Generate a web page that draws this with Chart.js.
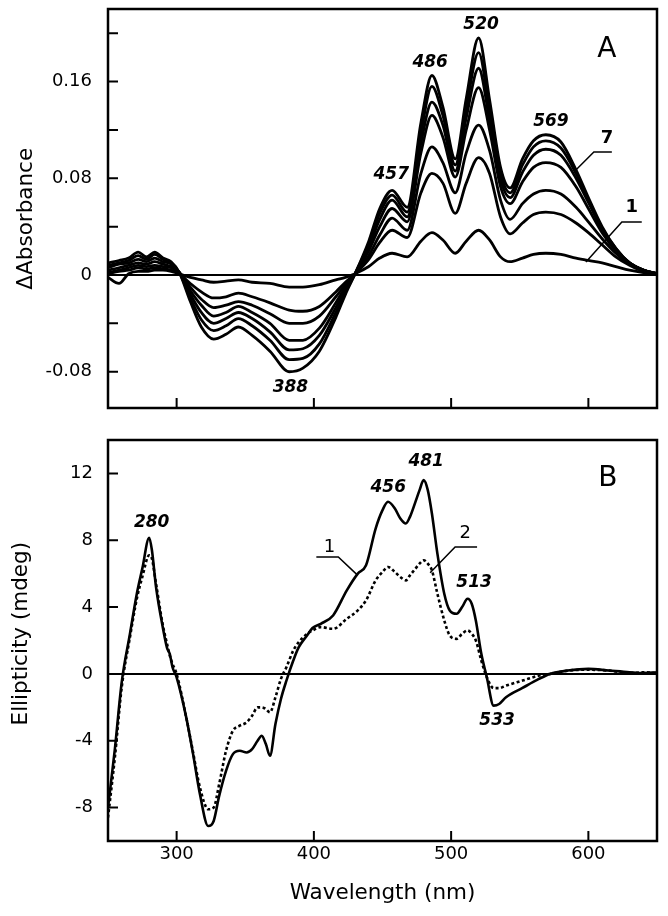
<!DOCTYPE html>
<html>
<head>
<meta charset="utf-8">
<script src="https://cdn.jsdelivr.net/npm/chart.js@4.4.0/dist/chart.umd.min.js"></script>
<style>
  body { margin: 0; background: #fff; }
  #wrap { position: relative; width: 668px; height: 916px; }
  #chartA { position: absolute; left: 0; top: 0; }
  #chartB { position: absolute; left: 0; top: 420px; }
</style>
</head>
<body>
<div id="wrap">
  <canvas id="chartA" width="668" height="420"></canvas>
  <canvas id="chartB" width="668" height="496"></canvas>
</div>
<script>
// ---- panel A : difference absorbance spectra, curves 1..7 ----
var wlA = [250, 258, 265, 272, 278, 284, 290, 296, 302, 310, 318, 327, 336, 345, 355, 368, 382, 392, 404, 416,
           423, 430, 440, 448, 457, 468, 478, 486, 494, 503, 511, 520, 528, 536, 543, 552, 560, 569, 580, 591,
           600, 610, 620, 630, 640, 650];

var absA1 = [-0.002, -0.007, 0.001, 0.003, 0.003, 0.004, 0.004, 0.003, 0.001, -0.002, -0.004, -0.006, -0.005, -0.004, -0.006, -0.007, -0.010, -0.010, -0.008, -0.004,
             -0.002, 0.001, 0.007, 0.014, 0.018, 0.015, 0.028, 0.035, 0.029, 0.018, 0.028, 0.037, 0.029, 0.015, 0.011, 0.014, 0.017, 0.018, 0.017, 0.014,
             0.012, 0.010, 0.007, 0.004, 0.002, 0.001];
var absA2 = [0.001, 0.003, 0.004, 0.006, 0.005, 0.006, 0.005, 0.004, 0.001, -0.007, -0.014, -0.019, -0.018, -0.015, -0.018, -0.023, -0.029, -0.030, -0.026, -0.014,
             -0.006, 0.001, 0.013, 0.027, 0.037, 0.031, 0.068, 0.084, 0.076, 0.051, 0.076, 0.097, 0.084, 0.048, 0.034, 0.043, 0.050, 0.052, 0.050, 0.043,
             0.035, 0.025, 0.015, 0.008, 0.003, 0.001];
var absA3 = [0.002, 0.004, 0.006, 0.008, 0.007, 0.008, 0.007, 0.006, 0.002, -0.010, -0.020, -0.027, -0.025, -0.022, -0.025, -0.032, -0.040, -0.040, -0.034, -0.018,
             -0.008, 0.001, 0.016, 0.033, 0.047, 0.037, 0.084, 0.106, 0.093, 0.068, 0.101, 0.124, 0.103, 0.062, 0.046, 0.059, 0.067, 0.070, 0.067, 0.056,
             0.044, 0.030, 0.018, 0.009, 0.004, 0.001];
var absA4 = [0.004, 0.006, 0.008, 0.010, 0.009, 0.011, 0.009, 0.007, 0.002, -0.013, -0.025, -0.034, -0.031, -0.026, -0.031, -0.040, -0.054, -0.054, -0.044, -0.023,
             -0.010, 0.001, 0.020, 0.040, 0.055, 0.044, 0.101, 0.132, 0.114, 0.081, 0.120, 0.155, 0.120, 0.073, 0.059, 0.077, 0.089, 0.093, 0.089, 0.073,
             0.055, 0.035, 0.020, 0.010, 0.004, 0.001];
var absA5 = [0.006, 0.009, 0.010, 0.013, 0.011, 0.014, 0.011, 0.009, 0.002, -0.016, -0.031, -0.040, -0.036, -0.031, -0.036, -0.047, -0.062, -0.061, -0.050, -0.027,
             -0.012, 0.001, 0.023, 0.046, 0.062, 0.048, 0.109, 0.143, 0.124, 0.086, 0.130, 0.171, 0.128, 0.079, 0.064, 0.085, 0.099, 0.104, 0.099, 0.080,
             0.060, 0.038, 0.021, 0.010, 0.004, 0.001];
var absA6 = [0.008, 0.010, 0.012, 0.016, 0.013, 0.017, 0.013, 0.010, 0.002, -0.019, -0.037, -0.046, -0.042, -0.036, -0.042, -0.054, -0.070, -0.069, -0.057, -0.031,
             -0.014, 0.001, 0.026, 0.051, 0.066, 0.052, 0.117, 0.156, 0.132, 0.091, 0.138, 0.184, 0.136, 0.084, 0.068, 0.091, 0.106, 0.111, 0.105, 0.084,
             0.062, 0.039, 0.022, 0.010, 0.004, 0.001];
var absA7 = [0.010, 0.012, 0.014, 0.019, 0.015, 0.019, 0.014, 0.011, 0.002, -0.022, -0.043, -0.053, -0.049, -0.043, -0.050, -0.063, -0.080, -0.077, -0.063, -0.035,
             -0.016, 0.001, 0.028, 0.055, 0.070, 0.056, 0.126, 0.165, 0.139, 0.096, 0.146, 0.196, 0.145, 0.089, 0.072, 0.096, 0.111, 0.116, 0.110, 0.087,
             0.064, 0.040, 0.022, 0.010, 0.004, 0.001];

// ---- panel B : CD spectra, 1 solid, 2 dotted ----
var wlB = [250, 255, 260, 266, 271, 275, 280, 282, 285, 290, 293, 295, 297, 300, 307, 312, 317, 323, 327, 331,
           336, 341, 346, 351, 355, 359, 362, 365, 368, 372, 376, 380, 385, 389, 395, 399, 405, 414, 424, 432,
           438, 445, 450, 454, 459, 463, 467, 470, 474, 477, 480, 483, 486, 490, 495, 499, 504, 508, 512, 515,
           518, 522, 526, 531, 535, 540, 552, 564, 572, 585, 600, 615, 630, 640, 650];
var cdB1 = [-8.0, -4.5, -0.5, 2.4, 4.8, 6.3, 8.15, 7.4, 5.2, 2.75, 1.56, 1.2, 0.4, -0.2, -2.6, -4.8, -7.2, -9.1, -8.8, -7.3,
            -5.8, -4.8, -4.6, -4.7, -4.5, -4.0, -3.7, -4.2, -4.9, -3.0, -1.5, -0.4, 0.8, 1.6, 2.3, 2.75, 3.0, 3.5, 5.0, 6.0,
            6.5, 8.7, 9.8, 10.3, 9.9, 9.3, 9.0, 9.4, 10.3, 11.0, 11.6, 11.0, 9.6, 7.2, 4.8, 3.8, 3.6, 4.0, 4.5, 4.2,
            3.2, 1.2, -0.2, -1.9, -1.8, -1.4, -0.84, -0.3, 0.0, 0.2, 0.3, 0.2, 0.1, 0.05, 0.1];
var cdB2 = [-8.6, -5.0, -0.8, 2.2, 4.5, 5.8, 7.1, 6.9, 5.4, 2.9, 1.8, 1.1, 0.6, 0.0, -2.6, -4.7, -6.8, -8.1, -8.0, -6.6,
            -4.6, -3.4, -3.1, -2.9, -2.5, -2.0, -2.0, -2.1, -2.3, -1.4, -0.3, 0.4, 1.4, 1.9, 2.4, 2.6, 2.8, 2.7, 3.3, 3.8,
            4.4, 5.6, 6.1, 6.4, 6.1, 5.8, 5.6, 5.9, 6.3, 6.6, 6.8, 6.6, 6.2, 4.8, 3.2, 2.3, 2.1, 2.4, 2.6, 2.4,
            2.0, 0.8, -0.2, -0.85, -0.85, -0.7, -0.4, -0.1, 0.0, 0.2, 0.25, 0.2, 0.05, 0.1, 0.05];

var xTicks = [300, 400, 500, 600];
var yTicksA = [-0.08, 0, 0.08, 0.16];
var yMinorA = [-0.04, 0.04, 0.12, 0.2];
var yTicksB = [-8, -4, 0, 4, 8, 12];

var FAM = '"DejaVu Sans", "Liberation Sans", Arial, sans-serif';
Chart.defaults.font.family = FAM;
Chart.defaults.color = '#000';

var FONT_PEAK = 'bold italic 17px ' + FAM;
var FONT_NUM = 'bold 18px ' + FAM;
var FONT_NUMB = '18px ' + FAM;
var FONT_LETTER = '28px ' + FAM;

function pts(xs, ys) {
  return xs.map(function(w, i) { return {x: w, y: ys[i]}; });
}

// keep the plot frame exactly where the axis sizes put it
function fixY(s) { s.width = 108; s.paddingTop = 0; s.paddingBottom = 0; }

// frame, inward ticks, zero line, peak labels and leader lines
var decor = {
  id: 'decor',
  afterDatasetsDraw: function(chart, args, o) {
    var ctx = chart.ctx, a = chart.chartArea, x = chart.scales.x, y = chart.scales.y;
    ctx.save();
    ctx.strokeStyle = '#000';
    ctx.lineWidth = 2;
    var y0 = y.getPixelForValue(0);
    ctx.beginPath(); ctx.moveTo(a.left, y0); ctx.lineTo(a.right, y0); ctx.stroke();
    ctx.beginPath();
    o.xTicks.forEach(function(v) {
      var px = x.getPixelForValue(v);
      ctx.moveTo(px, a.bottom); ctx.lineTo(px, a.bottom - 10);
    });
    o.yTicks.forEach(function(v) {
      var py = y.getPixelForValue(v);
      ctx.moveTo(a.left, py); ctx.lineTo(a.left + 10, py);
    });
    ctx.stroke();
    ctx.lineWidth = 2.5;
    ctx.strokeRect(a.left, a.top, a.right - a.left, a.bottom - a.top);
    ctx.lineWidth = 1.5;
    o.leaders.forEach(function(line) {
      ctx.beginPath();
      line.forEach(function(p, i) {
        var px = x.getPixelForValue(p[0]), py = y.getPixelForValue(p[1]);
        if (i) ctx.lineTo(px, py); else ctx.moveTo(px, py);
      });
      ctx.stroke();
    });
    ctx.fillStyle = '#000';
    ctx.textAlign = 'center';
    ctx.textBaseline = 'middle';
    o.labels.forEach(function(l) {
      ctx.font = l.font;
      ctx.fillText(l.t, x.getPixelForValue(l.x), y.getPixelForValue(l.y));
    });
    ctx.restore();
  }
};

function lineSet(data, width, dash) {
  return {
    data: data, borderColor: '#000', borderWidth: width, borderDash: dash || [],
    pointRadius: 0, fill: false, cubicInterpolationMode: 'monotone'
  };
}

// panel A
new Chart(document.getElementById('chartA'), {
  type: 'line',
  data: {
    datasets: [absA1, absA2, absA3, absA4, absA5, absA6, absA7].map(function(s) {
      return lineSet(pts(wlA, s), 2.8);
    })
  },
  options: {
    responsive: false, animation: false,
    layout: {padding: {top: 9, right: 11, left: 0, bottom: 0}},
    plugins: {
      legend: {display: false}, tooltip: {enabled: false},
      decor: {
        xTicks: xTicks,
        yTicks: yTicksA.concat(yMinorA),
        leaders: [
          [[590.9, 0.0869], [604.0, 0.1017], [617.1, 0.1017]],
          [[598.2, 0.0108], [624.4, 0.0438], [638.9, 0.0438]]
        ],
        labels: [
          {t: '388', x: 382.9, y: -0.0935, font: FONT_PEAK},
          {t: '457', x: 456.4, y: 0.0827, font: FONT_PEAK},
          {t: '486', x: 484.7, y: 0.176, font: FONT_PEAK},
          {t: '520', x: 521.8, y: 0.207, font: FONT_PEAK},
          {t: '569', x: 572.7, y: 0.1266, font: FONT_PEAK},
          {t: '7', x: 613.5, y: 0.1133, font: FONT_NUM},
          {t: '1', x: 631.6, y: 0.0562, font: FONT_NUM},
          {t: 'A', x: 613.5, y: 0.186, font: FONT_LETTER}
        ]
      }
    },
    scales: {
      x: {
        type: 'linear', min: 250, max: 650,
        ticks: {display: false},
        grid: {display: false, drawTicks: false},
        border: {display: false},
        afterFit: function(s) { s.height = 12; s.paddingLeft = 0; s.paddingRight = 0; }
      },
      y: {
        min: -0.11, max: 0.22,
        afterBuildTicks: function(s) {
          s.ticks = yTicksA.concat(yMinorA).sort(function(p, q) { return p - q; })
            .map(function(v) { return {value: v}; });
        },
        ticks: {
          padding: 16, font: {size: 18},
          callback: function(v) {
            if (yTicksA.indexOf(v) < 0) return '';
            return v === 0 ? '0' : v.toFixed(2);
          }
        },
        grid: {display: false, drawTicks: false},
        border: {display: false},
        title: {display: true, text: 'ΔAbsorbance   ', font: {size: 21.5}, padding: {top: 14, bottom: 0}},
        afterFit: fixY
      }
    }
  },
  plugins: [decor]
});

// panel B
new Chart(document.getElementById('chartB'), {
  type: 'line',
  data: {
    datasets: [
      lineSet(pts(wlB, cdB1), 2.6),
      lineSet(pts(wlB, cdB2), 2.6, [3, 2.5])
    ]
  },
  options: {
    responsive: false, animation: false,
    layout: {padding: {top: 20, right: 11, left: 0, bottom: 0}},
    plugins: {
      legend: {display: false}, tooltip: {enabled: false},
      decor: {
        xTicks: xTicks,
        yTicks: yTicksB,
        leaders: [
          [[401.8, 7.0], [417.8, 7.0], [431.6, 5.93]],
          [[484.7, 6.05], [502.9, 7.60], [518.9, 7.60]]
        ],
        labels: [
          {t: '280', x: 281.8, y: 9.04, font: FONT_PEAK},
          {t: '456', x: 454.2, y: 11.14, font: FONT_PEAK},
          {t: '481', x: 481.8, y: 12.69, font: FONT_PEAK},
          {t: '513', x: 516.7, y: 5.45, font: FONT_PEAK},
          {t: '533', x: 533.5, y: -2.81, font: FONT_PEAK},
          {t: '1', x: 411.3, y: 7.6, font: FONT_NUMB},
          {t: '2', x: 510.2, y: 8.44, font: FONT_NUMB},
          {t: 'B', x: 614.2, y: 11.68, font: FONT_LETTER}
        ]
      }
    },
    scales: {
      x: {
        type: 'linear', min: 250, max: 650,
        afterBuildTicks: function(s) {
          s.ticks = xTicks.map(function(v) { return {value: v}; });
        },
        ticks: {padding: 3, font: {size: 18}, maxRotation: 0},
        grid: {display: false, drawTicks: false},
        border: {display: false},
        title: {display: true, text: 'Wavelength (nm)', font: {size: 21.5}, padding: {top: 0, bottom: 10}},
        afterFit: function(s) { s.height = 75; s.paddingLeft = 0; s.paddingRight = 0; }
      },
      y: {
        min: -10, max: 14,
        afterBuildTicks: function(s) {
          s.ticks = yTicksB.map(function(v) { return {value: v}; });
        },
        ticks: {padding: 15, font: {size: 18}},
        grid: {display: false, drawTicks: false},
        border: {display: false},
        title: {display: true, text: '  Ellipticity (mdeg)', font: {size: 21.5}, padding: {top: 9, bottom: 0}},
        afterFit: fixY
      }
    }
  },
  plugins: [decor]
});
</script>
</body>
</html>
